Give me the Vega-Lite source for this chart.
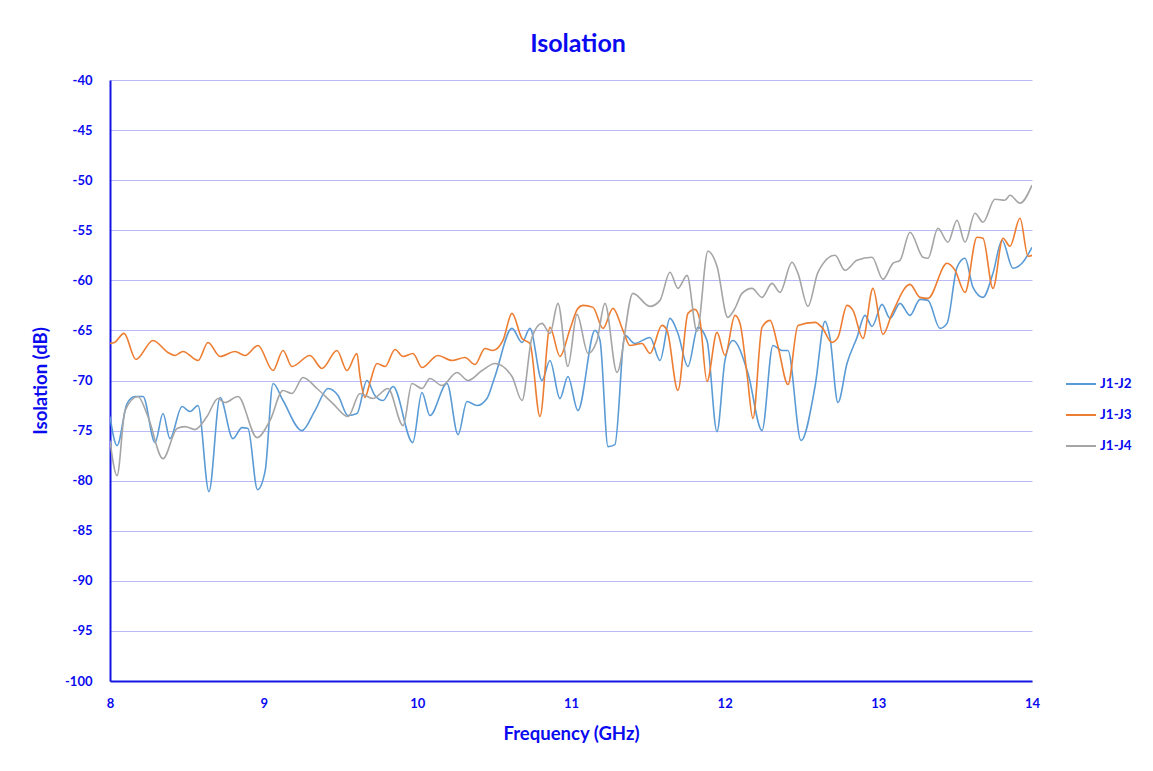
{
"$schema": "https://vega.github.io/schema/vega-lite/v6.json",
"width": 922, "height": 601,
"autosize": {"type": "none"},
"padding": {"left": 110, "top": 80, "right": 121, "bottom": 90},
"background": "white",
"title": {"text": "Isolation", "font": "Lato", "fontSize": 25, "fontWeight": "bold", "color": "#0a0af0", "offset": 17, "dx": 7},
"data": {"values": [
{"s":"J1-J2","f":8.000,"v":-73.6},{"s":"J1-J2","f":8.046,"v":-76.5},{"s":"J1-J2","f":8.111,"v":-72.3},{"s":"J1-J2","f":8.163,"v":-71.6},{"s":"J1-J2","f":8.215,"v":-71.6},{"s":"J1-J2","f":8.293,"v":-76.2},{"s":"J1-J2","f":8.345,"v":-73.3},{"s":"J1-J2","f":8.390,"v":-75.8},{"s":"J1-J2","f":8.469,"v":-72.6},{"s":"J1-J2","f":8.521,"v":-73.1},{"s":"J1-J2","f":8.573,"v":-72.5},{"s":"J1-J2","f":8.644,"v":-81.1},{"s":"J1-J2","f":8.716,"v":-71.7},{"s":"J1-J2","f":8.800,"v":-75.8},{"s":"J1-J2","f":8.859,"v":-74.7},{"s":"J1-J2","f":8.898,"v":-74.8},{"s":"J1-J2","f":8.960,"v":-80.9},{"s":"J1-J2","f":9.010,"v":-79.0},{"s":"J1-J2","f":9.061,"v":-70.3},{"s":"J1-J2","f":9.126,"v":-72.0},{"s":"J1-J2","f":9.249,"v":-75.0},{"s":"J1-J2","f":9.334,"v":-73.0},{"s":"J1-J2","f":9.419,"v":-70.8},{"s":"J1-J2","f":9.484,"v":-71.5},{"s":"J1-J2","f":9.549,"v":-73.5},{"s":"J1-J2","f":9.607,"v":-73.3},{"s":"J1-J2","f":9.672,"v":-70.0},{"s":"J1-J2","f":9.724,"v":-71.5},{"s":"J1-J2","f":9.777,"v":-72.0},{"s":"J1-J2","f":9.842,"v":-70.6},{"s":"J1-J2","f":9.970,"v":-76.2},{"s":"J1-J2","f":10.030,"v":-71.2},{"s":"J1-J2","f":10.082,"v":-73.5},{"s":"J1-J2","f":10.193,"v":-70.3},{"s":"J1-J2","f":10.265,"v":-75.4},{"s":"J1-J2","f":10.323,"v":-72.1},{"s":"J1-J2","f":10.388,"v":-72.5},{"s":"J1-J2","f":10.453,"v":-71.8},{"s":"J1-J2","f":10.505,"v":-69.6},{"s":"J1-J2","f":10.616,"v":-64.8},{"s":"J1-J2","f":10.681,"v":-66.2},{"s":"J1-J2","f":10.733,"v":-64.8},{"s":"J1-J2","f":10.811,"v":-70.0},{"s":"J1-J2","f":10.863,"v":-68.0},{"s":"J1-J2","f":10.928,"v":-71.8},{"s":"J1-J2","f":10.980,"v":-69.6},{"s":"J1-J2","f":11.045,"v":-73.0},{"s":"J1-J2","f":11.156,"v":-65.0},{"s":"J1-J2","f":11.189,"v":-66.0},{"s":"J1-J2","f":11.241,"v":-76.6},{"s":"J1-J2","f":11.286,"v":-76.4},{"s":"J1-J2","f":11.351,"v":-65.5},{"s":"J1-J2","f":11.416,"v":-66.3},{"s":"J1-J2","f":11.514,"v":-65.7},{"s":"J1-J2","f":11.579,"v":-68.0},{"s":"J1-J2","f":11.644,"v":-63.8},{"s":"J1-J2","f":11.696,"v":-65.3},{"s":"J1-J2","f":11.761,"v":-68.6},{"s":"J1-J2","f":11.826,"v":-64.7},{"s":"J1-J2","f":11.885,"v":-66.0},{"s":"J1-J2","f":11.950,"v":-75.1},{"s":"J1-J2","f":12.002,"v":-68.0},{"s":"J1-J2","f":12.054,"v":-66.0},{"s":"J1-J2","f":12.152,"v":-69.3},{"s":"J1-J2","f":12.243,"v":-75.0},{"s":"J1-J2","f":12.314,"v":-66.5},{"s":"J1-J2","f":12.373,"v":-67.0},{"s":"J1-J2","f":12.412,"v":-67.0},{"s":"J1-J2","f":12.497,"v":-76.0},{"s":"J1-J2","f":12.588,"v":-70.6},{"s":"J1-J2","f":12.653,"v":-64.1},{"s":"J1-J2","f":12.685,"v":-65.7},{"s":"J1-J2","f":12.737,"v":-72.2},{"s":"J1-J2","f":12.796,"v":-68.3},{"s":"J1-J2","f":12.861,"v":-65.7},{"s":"J1-J2","f":12.913,"v":-63.5},{"s":"J1-J2","f":12.959,"v":-64.6},{"s":"J1-J2","f":13.024,"v":-62.4},{"s":"J1-J2","f":13.076,"v":-63.8},{"s":"J1-J2","f":13.141,"v":-62.3},{"s":"J1-J2","f":13.206,"v":-63.5},{"s":"J1-J2","f":13.271,"v":-61.9},{"s":"J1-J2","f":13.323,"v":-62.0},{"s":"J1-J2","f":13.401,"v":-64.8},{"s":"J1-J2","f":13.447,"v":-64.3},{"s":"J1-J2","f":13.512,"v":-58.7},{"s":"J1-J2","f":13.564,"v":-57.8},{"s":"J1-J2","f":13.616,"v":-60.7},{"s":"J1-J2","f":13.681,"v":-61.7},{"s":"J1-J2","f":13.746,"v":-59.3},{"s":"J1-J2","f":13.805,"v":-56.0},{"s":"J1-J2","f":13.876,"v":-58.8},{"s":"J1-J2","f":13.935,"v":-58.3},{"s":"J1-J2","f":14.000,"v":-56.7},
{"s":"J1-J3","f":8.000,"v":-66.3},{"s":"J1-J3","f":8.030,"v":-66.2},{"s":"J1-J3","f":8.091,"v":-65.3},{"s":"J1-J3","f":8.169,"v":-67.9},{"s":"J1-J3","f":8.280,"v":-66.0},{"s":"J1-J3","f":8.377,"v":-67.2},{"s":"J1-J3","f":8.423,"v":-67.5},{"s":"J1-J3","f":8.475,"v":-67.1},{"s":"J1-J3","f":8.573,"v":-68.0},{"s":"J1-J3","f":8.638,"v":-66.2},{"s":"J1-J3","f":8.716,"v":-67.6},{"s":"J1-J3","f":8.813,"v":-67.1},{"s":"J1-J3","f":8.879,"v":-67.5},{"s":"J1-J3","f":8.963,"v":-66.5},{"s":"J1-J3","f":9.061,"v":-69.0},{"s":"J1-J3","f":9.126,"v":-67.0},{"s":"J1-J3","f":9.184,"v":-68.6},{"s":"J1-J3","f":9.301,"v":-67.5},{"s":"J1-J3","f":9.380,"v":-68.8},{"s":"J1-J3","f":9.477,"v":-67.0},{"s":"J1-J3","f":9.542,"v":-69.0},{"s":"J1-J3","f":9.607,"v":-67.3},{"s":"J1-J3","f":9.627,"v":-69.6},{"s":"J1-J3","f":9.659,"v":-71.7},{"s":"J1-J3","f":9.692,"v":-70.2},{"s":"J1-J3","f":9.737,"v":-68.3},{"s":"J1-J3","f":9.790,"v":-68.6},{"s":"J1-J3","f":9.855,"v":-66.9},{"s":"J1-J3","f":9.907,"v":-67.6},{"s":"J1-J3","f":9.972,"v":-67.3},{"s":"J1-J3","f":10.030,"v":-68.7},{"s":"J1-J3","f":10.134,"v":-67.5},{"s":"J1-J3","f":10.226,"v":-68.0},{"s":"J1-J3","f":10.310,"v":-67.7},{"s":"J1-J3","f":10.375,"v":-68.4},{"s":"J1-J3","f":10.440,"v":-66.8},{"s":"J1-J3","f":10.492,"v":-67.0},{"s":"J1-J3","f":10.557,"v":-66.0},{"s":"J1-J3","f":10.616,"v":-63.3},{"s":"J1-J3","f":10.681,"v":-65.8},{"s":"J1-J3","f":10.733,"v":-66.3},{"s":"J1-J3","f":10.798,"v":-73.6},{"s":"J1-J3","f":10.863,"v":-64.7},{"s":"J1-J3","f":10.928,"v":-67.6},{"s":"J1-J3","f":10.993,"v":-64.9},{"s":"J1-J3","f":11.045,"v":-62.8},{"s":"J1-J3","f":11.078,"v":-62.5},{"s":"J1-J3","f":11.143,"v":-62.7},{"s":"J1-J3","f":11.208,"v":-64.8},{"s":"J1-J3","f":11.273,"v":-62.8},{"s":"J1-J3","f":11.338,"v":-65.0},{"s":"J1-J3","f":11.384,"v":-66.5},{"s":"J1-J3","f":11.462,"v":-66.3},{"s":"J1-J3","f":11.514,"v":-67.3},{"s":"J1-J3","f":11.592,"v":-64.5},{"s":"J1-J3","f":11.625,"v":-65.0},{"s":"J1-J3","f":11.696,"v":-71.0},{"s":"J1-J3","f":11.761,"v":-63.3},{"s":"J1-J3","f":11.807,"v":-62.9},{"s":"J1-J3","f":11.839,"v":-64.0},{"s":"J1-J3","f":11.885,"v":-70.1},{"s":"J1-J3","f":11.950,"v":-65.2},{"s":"J1-J3","f":12.002,"v":-67.5},{"s":"J1-J3","f":12.067,"v":-63.5},{"s":"J1-J3","f":12.100,"v":-64.3},{"s":"J1-J3","f":12.145,"v":-69.3},{"s":"J1-J3","f":12.184,"v":-73.8},{"s":"J1-J3","f":12.243,"v":-64.7},{"s":"J1-J3","f":12.295,"v":-64.0},{"s":"J1-J3","f":12.347,"v":-66.6},{"s":"J1-J3","f":12.412,"v":-70.4},{"s":"J1-J3","f":12.477,"v":-64.5},{"s":"J1-J3","f":12.588,"v":-64.2},{"s":"J1-J3","f":12.633,"v":-64.7},{"s":"J1-J3","f":12.698,"v":-66.2},{"s":"J1-J3","f":12.737,"v":-65.7},{"s":"J1-J3","f":12.796,"v":-62.5},{"s":"J1-J3","f":12.835,"v":-63.0},{"s":"J1-J3","f":12.900,"v":-65.8},{"s":"J1-J3","f":12.965,"v":-60.8},{"s":"J1-J3","f":13.030,"v":-65.4},{"s":"J1-J3","f":13.090,"v":-63.3},{"s":"J1-J3","f":13.206,"v":-60.4},{"s":"J1-J3","f":13.271,"v":-61.7},{"s":"J1-J3","f":13.323,"v":-61.8},{"s":"J1-J3","f":13.447,"v":-58.3},{"s":"J1-J3","f":13.499,"v":-59.0},{"s":"J1-J3","f":13.564,"v":-61.2},{"s":"J1-J3","f":13.642,"v":-55.7},{"s":"J1-J3","f":13.681,"v":-55.8},{"s":"J1-J3","f":13.746,"v":-60.8},{"s":"J1-J3","f":13.811,"v":-55.8},{"s":"J1-J3","f":13.857,"v":-56.6},{"s":"J1-J3","f":13.922,"v":-53.8},{"s":"J1-J3","f":13.974,"v":-57.6},{"s":"J1-J3","f":14.000,"v":-57.5},
{"s":"J1-J4","f":8.000,"v":-76.0},{"s":"J1-J4","f":8.046,"v":-79.5},{"s":"J1-J4","f":8.098,"v":-73.0},{"s":"J1-J4","f":8.182,"v":-71.6},{"s":"J1-J4","f":8.247,"v":-73.6},{"s":"J1-J4","f":8.345,"v":-77.8},{"s":"J1-J4","f":8.436,"v":-74.8},{"s":"J1-J4","f":8.488,"v":-74.6},{"s":"J1-J4","f":8.553,"v":-74.9},{"s":"J1-J4","f":8.631,"v":-73.6},{"s":"J1-J4","f":8.703,"v":-71.8},{"s":"J1-J4","f":8.748,"v":-72.2},{"s":"J1-J4","f":8.833,"v":-71.6},{"s":"J1-J4","f":8.957,"v":-75.7},{"s":"J1-J4","f":9.041,"v":-74.0},{"s":"J1-J4","f":9.126,"v":-71.0},{"s":"J1-J4","f":9.184,"v":-71.3},{"s":"J1-J4","f":9.256,"v":-69.7},{"s":"J1-J4","f":9.347,"v":-70.8},{"s":"J1-J4","f":9.451,"v":-72.3},{"s":"J1-J4","f":9.549,"v":-73.6},{"s":"J1-J4","f":9.627,"v":-71.3},{"s":"J1-J4","f":9.711,"v":-71.8},{"s":"J1-J4","f":9.809,"v":-70.8},{"s":"J1-J4","f":9.907,"v":-74.5},{"s":"J1-J4","f":9.965,"v":-70.3},{"s":"J1-J4","f":10.030,"v":-70.8},{"s":"J1-J4","f":10.082,"v":-69.8},{"s":"J1-J4","f":10.160,"v":-70.5},{"s":"J1-J4","f":10.258,"v":-69.2},{"s":"J1-J4","f":10.330,"v":-70.0},{"s":"J1-J4","f":10.421,"v":-69.0},{"s":"J1-J4","f":10.505,"v":-68.3},{"s":"J1-J4","f":10.616,"v":-69.6},{"s":"J1-J4","f":10.681,"v":-72.0},{"s":"J1-J4","f":10.746,"v":-65.7},{"s":"J1-J4","f":10.811,"v":-64.3},{"s":"J1-J4","f":10.863,"v":-65.3},{"s":"J1-J4","f":10.915,"v":-62.3},{"s":"J1-J4","f":10.980,"v":-68.6},{"s":"J1-J4","f":11.039,"v":-63.4},{"s":"J1-J4","f":11.111,"v":-67.3},{"s":"J1-J4","f":11.169,"v":-66.0},{"s":"J1-J4","f":11.221,"v":-62.3},{"s":"J1-J4","f":11.299,"v":-69.2},{"s":"J1-J4","f":11.403,"v":-61.3},{"s":"J1-J4","f":11.514,"v":-62.6},{"s":"J1-J4","f":11.579,"v":-62.0},{"s":"J1-J4","f":11.644,"v":-59.2},{"s":"J1-J4","f":11.696,"v":-60.8},{"s":"J1-J4","f":11.755,"v":-59.5},{"s":"J1-J4","f":11.820,"v":-65.1},{"s":"J1-J4","f":11.891,"v":-57.1},{"s":"J1-J4","f":11.950,"v":-58.6},{"s":"J1-J4","f":12.020,"v":-63.7},{"s":"J1-J4","f":12.067,"v":-62.8},{"s":"J1-J4","f":12.113,"v":-61.3},{"s":"J1-J4","f":12.178,"v":-60.8},{"s":"J1-J4","f":12.243,"v":-61.7},{"s":"J1-J4","f":12.308,"v":-60.3},{"s":"J1-J4","f":12.360,"v":-61.2},{"s":"J1-J4","f":12.438,"v":-58.2},{"s":"J1-J4","f":12.477,"v":-59.3},{"s":"J1-J4","f":12.542,"v":-62.6},{"s":"J1-J4","f":12.607,"v":-59.2},{"s":"J1-J4","f":12.718,"v":-57.5},{"s":"J1-J4","f":12.783,"v":-59.0},{"s":"J1-J4","f":12.861,"v":-58.0},{"s":"J1-J4","f":12.959,"v":-57.7},{"s":"J1-J4","f":13.030,"v":-59.9},{"s":"J1-J4","f":13.095,"v":-58.3},{"s":"J1-J4","f":13.141,"v":-58.0},{"s":"J1-J4","f":13.206,"v":-55.2},{"s":"J1-J4","f":13.291,"v":-57.7},{"s":"J1-J4","f":13.323,"v":-57.8},{"s":"J1-J4","f":13.388,"v":-54.8},{"s":"J1-J4","f":13.453,"v":-56.2},{"s":"J1-J4","f":13.512,"v":-54.0},{"s":"J1-J4","f":13.564,"v":-56.2},{"s":"J1-J4","f":13.629,"v":-53.3},{"s":"J1-J4","f":13.681,"v":-54.2},{"s":"J1-J4","f":13.759,"v":-51.9},{"s":"J1-J4","f":13.824,"v":-52.0},{"s":"J1-J4","f":13.857,"v":-51.5},{"s":"J1-J4","f":13.922,"v":-52.3},{"s":"J1-J4","f":14.000,"v":-50.5}
]},
"mark": {"type": "line", "interpolate": "monotone", "strokeWidth": 1.6, "clip": true},
"encoding": {
  "x": {"field": "f", "type": "quantitative", "title": "Frequency (GHz)",
        "scale": {"domain": [8, 14], "nice": false, "zero": false},
        "axis": {"values": [8,9,10,11,12,13,14], "grid": false, "ticks": false, "domain": true, "domainColor": "#1414e6", "domainWidth": 2,
                 "labelFlush": false, "labelBound": false, "labelPadding": 16, "titlePadding": 14, "labelExpr": "toString(datum.value)"}},
  "y": {"field": "v", "type": "quantitative", "title": "Isolation (dB)",
        "scale": {"domain": [-100, -40], "nice": false, "zero": false},
        "axis": {"values": [-100,-95,-90,-85,-80,-75,-70,-65,-60,-55,-50,-45,-40], "grid": true, "gridColor": "#b9b9f7", "gridWidth": 1.2, "ticks": false,
                 "domainColor": "#1414e6", "domainWidth": 2, "labelPadding": 18, "titlePadding": 14, "labelExpr": "toString(datum.value)", "labelFlush": false}},
  "color": {"field": "s", "type": "nominal", "title": null,
            "scale": {"domain": ["J1-J2","J1-J3","J1-J4"], "range": ["#5B9BD5","#ED7D31","#A5A5A5"]},
            "legend": {"orient": "none", "legendX": 955, "legendY": 288, "symbolType": "stroke", "symbolSize": 900, "symbolStrokeWidth": 2,
                       "labelFont": "Lato", "labelFontSize": 13.5, "labelFontWeight": "bold", "labelColor": "#0a0af0", "labelOffset": 3, "rowPadding": 8, "padding": 0}}
},
"config": {
  "view": {"stroke": null},
  "axis": {"labelFont": "Lato", "labelFontSize": 13, "labelFontWeight": "bold", "labelColor": "#0a0af0",
           "titleFont": "Lato", "titleFontSize": 18.5, "titleFontWeight": "bold", "titleColor": "#0a0af0"}
}
}
